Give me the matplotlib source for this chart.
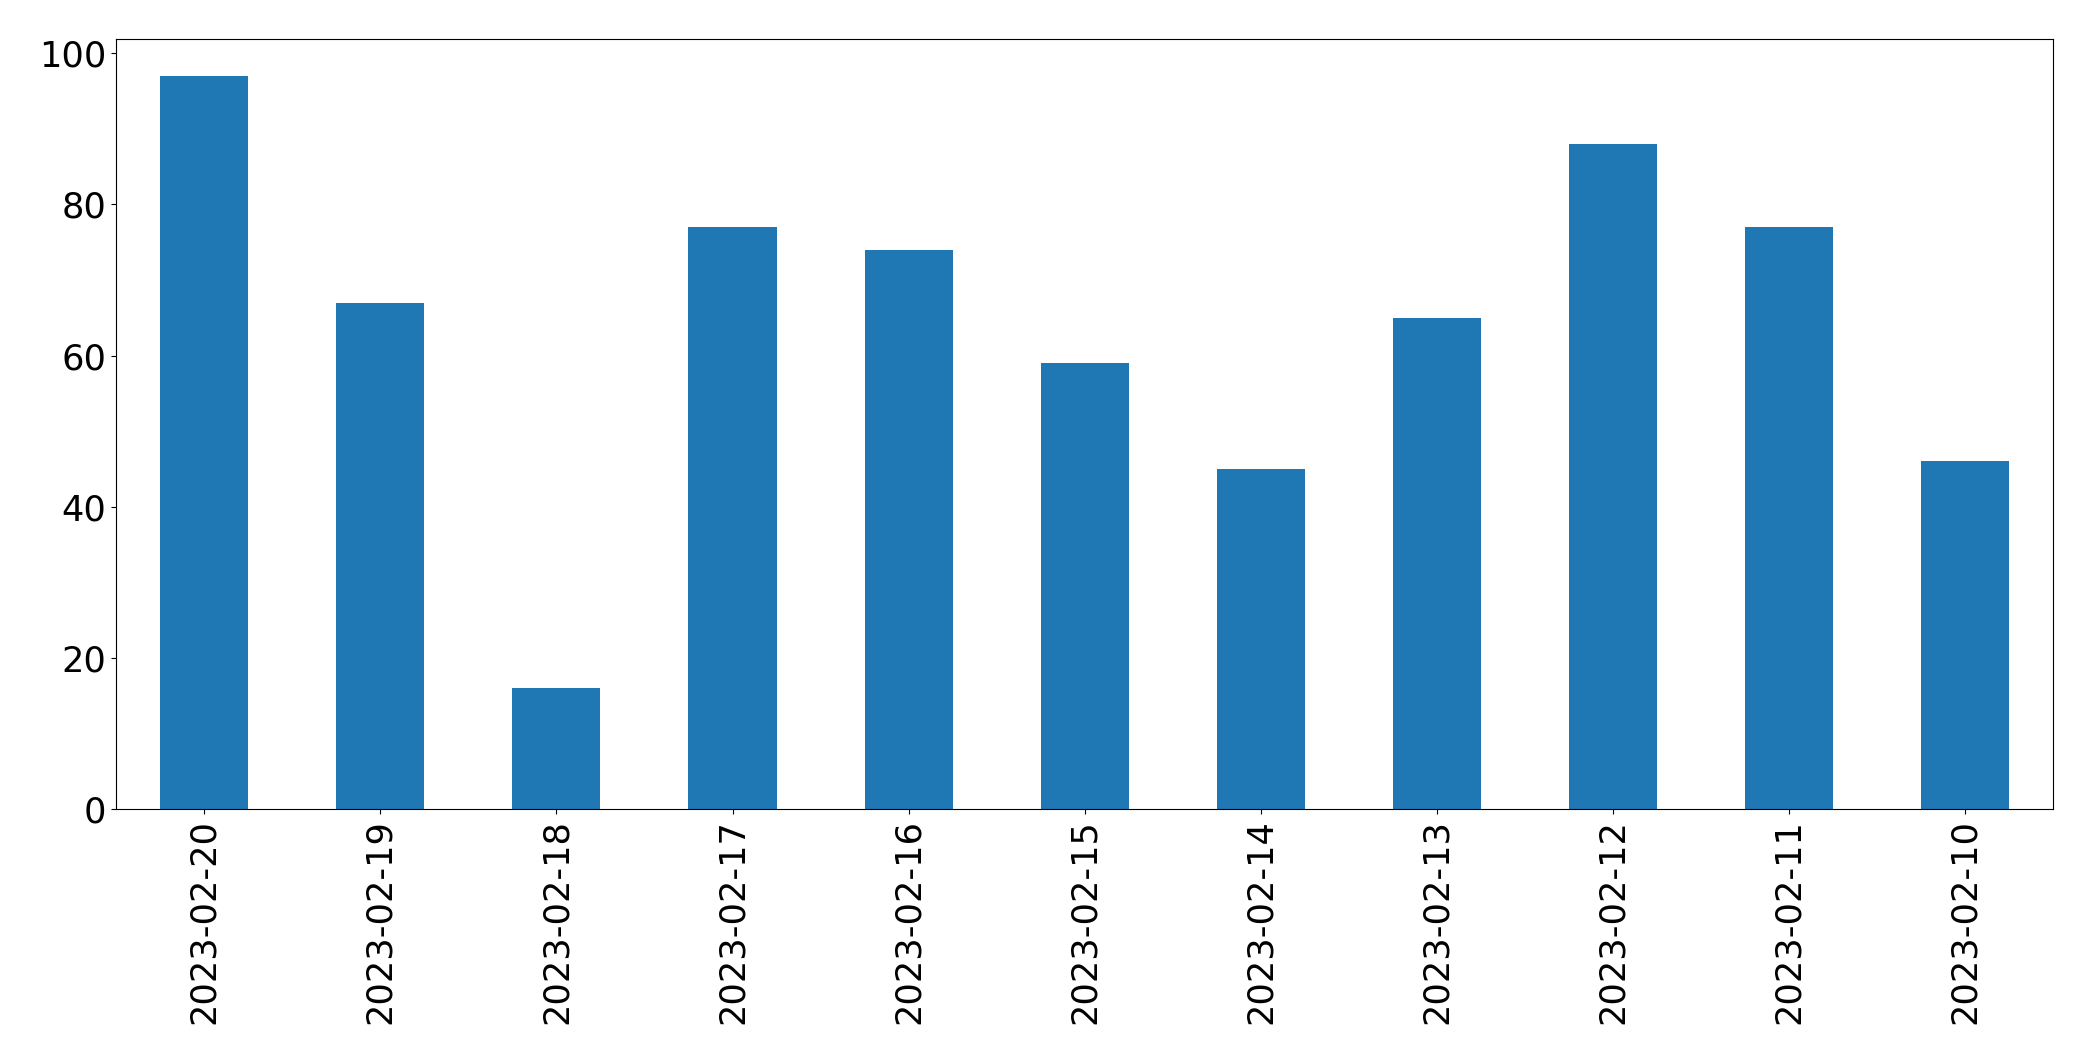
import matplotlib
matplotlib.use("Agg")
import matplotlib.pyplot as plt
import pandas as pd

dates = ["2023-02-20", "2023-02-19", "2023-02-18", "2023-02-17", "2023-02-16",
         "2023-02-15", "2023-02-14", "2023-02-13", "2023-02-12", "2023-02-11",
         "2023-02-10"]
counts = [97, 67, 16, 77, 74, 59, 45, 65, 88, 77, 46]

s = pd.Series(counts, index=dates)

fig, ax = plt.subplots(figsize=(20.93, 10.61), dpi=100)
s.plot(kind="bar", ax=ax, color="#1f77b4")
ax.tick_params(axis="both", labelsize=25.3)
fig.subplots_adjust(left=0.0555, right=0.981, top=0.963, bottom=0.2375)
fig.savefig("out.png", dpi=100)
